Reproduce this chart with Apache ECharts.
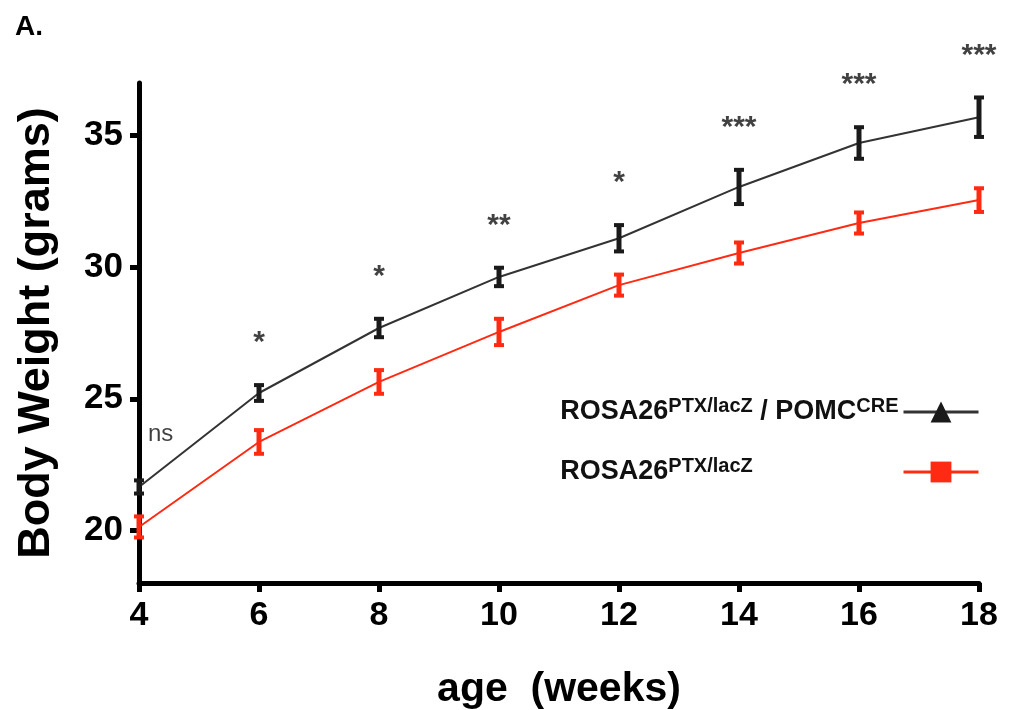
<!DOCTYPE html>
<html>
<head>
<meta charset="utf-8">
<title>Body weight</title>
<script src="https://cdn.jsdelivr.net/npm/echarts@6/dist/echarts.min.js"></script>
<style>
  html, body { margin: 0; padding: 0; background: #fff; }
  #chart { width: 1010px; height: 710px; }
</style>
</head>
<body>
<div id="chart"></div>
<script>
// 数据
const weeks = [4, 6, 8, 10, 12, 14, 16, 18];
const creMean = [21.65, 25.22, 27.69, 29.63, 31.1, 33.05, 34.72, 35.7];
const creErr = [0.25, 0.3, 0.35, 0.35, 0.5, 0.65, 0.6, 0.75];
const ctrlMean = [20.13, 23.36, 25.64, 27.54, 29.32, 30.54, 31.68, 32.55];
const ctrlErr = [0.4, 0.45, 0.45, 0.5, 0.4, 0.4, 0.4, 0.45];
const sigLabels = ['ns', '*', '*', '**', '*', '***', '***', '***'];
const yTicks = [20, 25, 30, 35];

const FONT = 'Liberation Sans, Arial, sans-serif';
const BLACK = '#1a1a1a';
const RED = '#ff2a12';
const MAIN_SIZE = 27;
const SUP_SIZE = 20;

const chart = echarts.init(document.getElementById('chart'));

// 误差棒
function errorBars(mean, err) {
  return weeks.map((w, i) => [w, mean[i] - err[i], mean[i] + err[i]]);
}

function renderErrorBar(params, api) {
  const color = api.visual('color');
  const lo = api.coord([api.value(0), api.value(1)]);
  const hi = api.coord([api.value(0), api.value(2)]);
  const cap = 5;
  const style = { stroke: color, lineWidth: 4 };
  return {
    type: 'group',
    children: [
      { type: 'line', shape: { x1: hi[0], y1: hi[1], x2: lo[0], y2: lo[1] }, style: { stroke: color, lineWidth: 5 } },
      { type: 'line', shape: { x1: hi[0] - cap, y1: hi[1], x2: hi[0] + cap, y2: hi[1] }, style },
      { type: 'line', shape: { x1: lo[0] - cap, y1: lo[1], x2: lo[0] + cap, y2: lo[1] }, style }
    ]
  };
}

const sigData = weeks.map((w, i) => {
  const item = { value: [w, creMean[i] + creErr[i]], name: sigLabels[i] };
  if (i === 0) {
    item.label = {
      fontWeight: 'normal',
      fontSize: 24,
      color: '#111',
      align: 'left',
      offset: [9, -46]
    };
  }
  return item;
});

// 图例文字宽度（让两行图标对齐）
const ctx = document.createElement('canvas').getContext('2d');
function textW(str, size) {
  ctx.font = 'bold ' + size + 'px ' + FONT;
  return ctx.measureText(str).width;
}
const w1 = textW('ROSA26', MAIN_SIZE) + textW('PTX/lacZ', SUP_SIZE) + textW(' / POMC', MAIN_SIZE) + textW('CRE', SUP_SIZE);
const w2 = textW('ROSA26', MAIN_SIZE) + textW('PTX/lacZ', SUP_SIZE);

const supStyle = { fontSize: SUP_SIZE, fontWeight: 'bold', fontFamily: FONT, color: '#111', verticalAlign: 'top', lineHeight: 32 };
const mainStyle = { fontSize: MAIN_SIZE, fontWeight: 'bold', fontFamily: FONT, color: '#111', lineHeight: 32 };
const padStyle = { width: Math.max(0, w1 - w2), lineHeight: 32 };
const legendBase = {
  right: 25,
  align: 'right',
  itemWidth: 75,
  itemHeight: 26,
  lineStyle: { width: 3 },
  textStyle: { rich: { m: mainStyle, s: supStyle, p: padStyle } }
};

const option = {
  animation: false,
  backgroundColor: '#fff',
  title: {
    text: 'A.',
    left: 10,
    top: 8,
    textStyle: { fontFamily: FONT, fontSize: 28, fontWeight: 'bold', color: '#000' }
  },
  legend: [
    Object.assign({}, legendBase, {
      data: ['ROSA26PTX/lacZ / POMCCRE'],
      top: 391,
      formatter: () => '{m|ROSA26}{s|PTX/lacZ}{m| / POMC}{s|CRE}'
    }),
    Object.assign({}, legendBase, {
      data: ['ROSA26PTX/lacZ'],
      top: 451,
      formatter: () => '{m|ROSA26}{s|PTX/lacZ}{p|}'
    })
  ],
  grid: {
    left: 139,
    right: 31,
    top: 83,
    bottom: 127,
    outerBoundsMode: 'none'
  },
  xAxis: {
    type: 'value',
    min: 4,
    max: 18,
    interval: 2,
    name: 'age  (weeks)',
    nameLocation: 'middle',
    nameGap: 86,
    nameTextStyle: { fontFamily: FONT, fontSize: 41, fontWeight: 'bold', color: '#000' },
    splitLine: { show: false },
    axisLine: { lineStyle: { color: '#000', width: 5 } },
    axisTick: { length: 9, lineStyle: { color: '#000', width: 5 } },
    axisLabel: { margin: 16, fontFamily: FONT, fontSize: 34, fontWeight: 'bold', color: '#000' }
  },
  yAxis: {
    type: 'value',
    min: 18,
    max: 37,
    name: 'Body Weight (grams)',
    nameLocation: 'middle',
    nameGap: 80,
    nameTextStyle: { fontFamily: FONT, fontSize: 45, fontWeight: 'bold', color: '#000' },
    splitLine: { show: false },
    axisLine: { show: true, lineStyle: { color: '#000', width: 5 } },
    axisTick: { show: true, length: 9, customValues: yTicks, lineStyle: { color: '#000', width: 5 } },
    axisLabel: { margin: 16, customValues: yTicks, fontFamily: FONT, fontSize: 35, fontWeight: 'bold', color: '#000' }
  },
  series: [
    {
      name: 'ROSA26PTX/lacZ / POMCCRE',
      type: 'line',
      data: weeks.map((w, i) => [w, creMean[i]]),
      color: BLACK,
      symbol: 'triangle',
      symbolSize: 1,
      lineStyle: { color: '#333', width: 2 },
      z: 3
    },
    {
      name: 'ROSA26PTX/lacZ',
      type: 'line',
      data: weeks.map((w, i) => [w, ctrlMean[i]]),
      color: RED,
      symbol: 'rect',
      symbolSize: 1,
      lineStyle: { color: RED, width: 2 },
      z: 3
    },
    {
      type: 'custom',
      color: BLACK,
      renderItem: renderErrorBar,
      data: errorBars(creMean, creErr),
      clip: false,
      z: 4
    },
    {
      type: 'custom',
      color: RED,
      renderItem: renderErrorBar,
      data: errorBars(ctrlMean, ctrlErr),
      clip: false,
      z: 4
    },
    {
      type: 'scatter',
      data: sigData,
      symbolSize: 0,
      clip: false,
      silent: true,
      label: {
        show: true,
        formatter: p => p.name,
        position: 'inside',
        offset: [0, -42],
        fontFamily: FONT,
        fontSize: 30,
        fontWeight: 'bold',
        color: '#111'
      }
    }
  ]
};

chart.setOption(option);
window.addEventListener('resize', () => chart.resize());
</script>
</body>
</html>
